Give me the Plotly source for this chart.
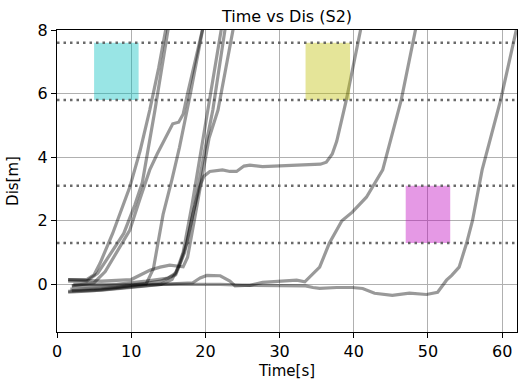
import plotly.graph_objects as go

# ---- data (time [s], distance [m]) for each run ----
runs = {
    "G1": ([1.5, 4.0, 5.0, 5.8, 7.5, 8.9, 9.8, 11.2, 12.5, 13.7, 14.8],
           [0.15, 0.15, 0.3, 0.66, 1.6, 2.5, 3.05, 4.2, 5.48, 6.8, 8.2]),
    "G2": ([1.5, 4.0, 5.5, 7.0, 8.2, 9.0, 10.5, 11.5, 13.2, 15.1],
           [0.1, 0.1, 0.35, 0.9, 1.3, 1.6, 2.5, 3.2, 5.48, 8.2]),
    "Q":  ([2.0, 5.0, 6.5, 8.0, 9.8, 11.2, 12.5, 13.5, 14.8, 15.6, 16.4, 17.0, 17.6, 19.2, 19.7],
           [-0.05, 0.05, 0.4, 1.0, 1.7, 2.7, 3.6, 4.1, 4.7, 5.05, 5.1, 5.35, 6.0, 7.6, 8.1]),
    "S":  ([2.0, 6.0, 10.0, 12.0, 13.0, 14.3, 15.5, 16.5, 17.9, 19.7],
           [-0.2, -0.15, -0.05, 0.0, 0.5, 2.2, 3.3, 4.3, 5.9, 8.1]),
    "T1": ([2.2, 8.0, 12.0, 15.0, 16.0, 17.0, 18.2, 19.4, 20.3, 22.2],
           [0.0, 0.0, 0.1, 0.2, 0.35, 1.0, 2.5, 4.2, 5.48, 8.1]),
    "T2": ([1.8, 8.0, 14.0, 16.0, 17.2, 18.6, 19.9, 21.0, 22.7],
           [-0.15, -0.1, 0.1, 0.3, 1.0, 2.5, 4.2, 5.48, 8.1]),
    "T3": ([1.5, 6.0, 10.0, 12.5, 13.9, 15.2, 17.0, 17.6, 18.5, 19.4, 20.5, 21.7, 23.8],
           [0.15, 0.1, 0.15, 0.44, 0.54, 0.6, 0.55, 0.85, 2.0, 3.2, 4.6, 5.48, 8.1]),
    "P":  ([1.5, 6.0, 10.0, 14.0, 15.5, 16.5, 17.5, 18.3, 19.2, 19.8, 20.6, 22.3, 23.3, 24.2,
            25.2, 26.0, 27.7, 30.0, 33.6, 35.5, 36.3, 37.1, 37.7, 39.0, 41.0],
           [-0.22, -0.18, -0.1, 0.0, 0.15, 0.6, 1.3, 2.2, 3.05, 3.4, 3.55, 3.6, 3.55, 3.55,
            3.72, 3.75, 3.7, 3.72, 3.75, 3.78, 3.84, 4.1, 4.5, 5.8, 8.1]),
    "R1": ([2.0, 6.0, 10.0, 14.0, 18.0, 22.0, 26.0, 27.7, 32.3, 33.4, 35.4, 36.7, 38.4, 39.8,
            41.7, 42.5, 43.9, 46.4, 48.4],
           [-0.05, -0.05, 0.0, 0.0, 0.0, 0.0, -0.03, 0.06, 0.13, 0.08, 0.54, 1.29, 2.0, 2.27,
            2.74, 3.05, 3.6, 5.8, 8.1]),
    "R2": ([1.5, 5.0, 10.0, 14.0, 18.3, 19.3, 20.2, 22.0, 23.3, 24.0, 26.0, 33.5, 34.5, 35.4,
            37.7, 39.8, 41.2, 42.8, 45.2, 47.5, 49.8, 51.3, 52.5, 53.2, 54.2, 55.2, 56.0, 57.3,
            59.8, 61.9],
           [-0.25, -0.2, -0.08, 0.0, 0.05, 0.2, 0.28, 0.27, 0.1, -0.05, -0.03, -0.05, -0.1, -0.13,
            -0.1, -0.1, -0.13, -0.28, -0.35, -0.28, -0.32, -0.25, 0.13, 0.28, 0.54, 1.29, 2.0, 3.6,
            5.8, 8.0]),
}

# horizontal dotted reference levels [m]
ref_levels = [7.6, 5.8, 3.1, 1.3]

# target zones
zone_t0 = [5.0, 33.5, 47.0]
zone_t1 = [11.0, 39.5, 53.0]
zone_d0 = [5.8, 5.8, 1.3]
zone_d1 = [7.6, 7.6, 3.1]
zone_col = ["rgb(0,191,191)", "rgb(191,191,0)", "rgb(191,0,191)"]

x_ticks = [0, 10, 20, 30, 40, 50, 60]
y_ticks = [0, 2, 4, 6, 8]

fig = go.Figure()

for t0, t1, d0, d1, c in zip(zone_t0, zone_t1, zone_d0, zone_d1, zone_col):
    fig.add_shape(type="rect", xref="x", yref="y", x0=t0, x1=t1, y0=d0, y1=d1,
                  fillcolor=c, opacity=0.4, line_width=0, layer="above")

for name, (t, d) in runs.items():
    fig.add_trace(go.Scatter(x=t, y=d, mode="lines", name=name, showlegend=False,
                             line=dict(color="rgba(0,0,0,0.4)", width=3.2),
                             hoverinfo="skip"))

for lvl in ref_levels:
    fig.add_shape(type="line", xref="x domain", yref="y", x0=0, x1=1, y0=lvl, y1=lvl,
                  line=dict(color="rgba(90,90,90,0.9)", width=2.5, dash="2.5px,4px"),
                  layer="above")

font = dict(family="DejaVu Sans", size=16, color="black")
title_font = dict(family="DejaVu Sans", size=15, color="black")
fig.update_layout(
    width=522, height=380,
    margin=dict(l=57, r=5, t=30, b=48, autoexpand=False),
    paper_bgcolor="white", plot_bgcolor="white",
    font=font,
    title=dict(text="Time vs Dis (S2)", x=0.5, xref="paper", xanchor="center",
               y=1 - 16 / 380, yanchor="middle", yref="container",
               font=dict(family="DejaVu Sans", size=16)),
    xaxis=dict(range=[0, 62], tickvals=x_ticks, showgrid=True, gridcolor="#b0b0b0",
               gridwidth=1, zeroline=False, showline=True, linecolor="black", linewidth=1.2,
               mirror=True, ticks="outside", ticklen=5, tickcolor="black", automargin=False,
               title=dict(text="Time[s]", font=title_font), tickfont=font),
    yaxis=dict(range=[-1.5, 8], tickvals=y_ticks, showgrid=True, gridcolor="#b0b0b0",
               gridwidth=1, zeroline=False, showline=True, linecolor="black", linewidth=1.2,
               mirror=True, ticks="outside", ticklen=5, tickcolor="black", automargin=False,
               title=dict(text="Dis[m]", font=title_font), tickfont=font),
)

fig.write_html("out.html", config={"displayModeBar": False},
               post_script="document.body.style.margin='0';")
